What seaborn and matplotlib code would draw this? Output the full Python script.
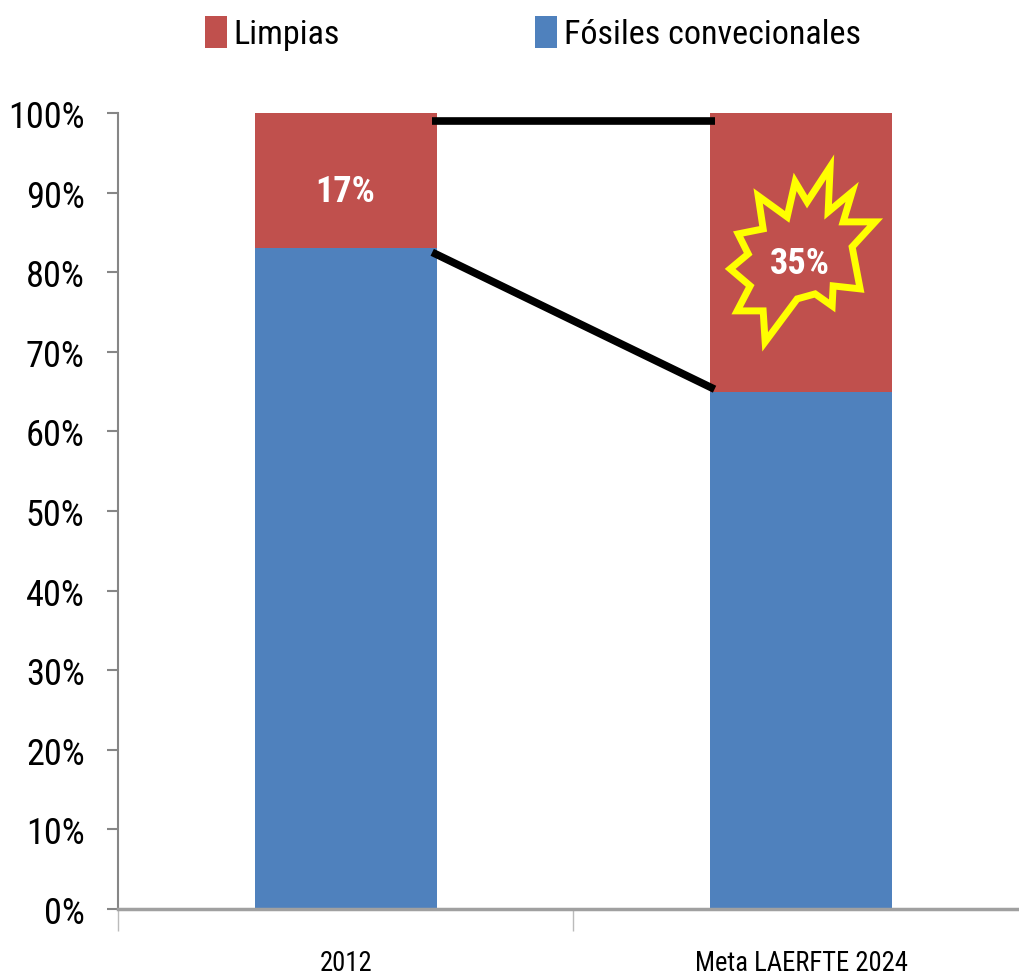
import matplotlib
matplotlib.use("Agg")
import pandas as pd
import matplotlib.pyplot as plt
import seaborn as sns
from matplotlib import font_manager
from matplotlib.patches import Patch, Polygon

# values (share of generation, %)
categories = ["2012", "Meta LAERFTE 2024"]
fosiles = [83, 65]
limpias = [17, 35]
series_names = ["Limpias", "Fósiles convecionales"]
yticks = list(range(0, 101, 10))

RED = "#C0504D"
BLUE = "#4F81BD"
GREY = "#868686"

# pick the narrowest family that is installed
installed = {f.name for f in font_manager.fontManager.ttflist}
FONT = "DejaVu Sans"
for cand in ["Liberation Sans Narrow", "Roboto Condensed", "Open Sans Condensed",
             "DejaVu Sans Condensed", "Liberation Sans", "Roboto"]:
    if cand in installed:
        FONT = cand
        break

sns.set_theme(style="white")
plt.rcParams["font.family"] = [FONT, "DejaVu Sans"]
plt.rcParams["text.color"] = "black"

df = pd.DataFrame({"cat": categories,
                   "fos": [f / 100 for f in fosiles],
                   "total": [(f + l) / 100 for f, l in zip(fosiles, limpias)]})

fig = plt.figure(figsize=(10.2, 9.79), dpi=100)
renderer = fig.canvas.get_renderer()


def fit_size(s, width_px, max_pt, weight="normal"):
    # font size that gives the text the width seen in the reference
    t = fig.text(0, 0, s, fontsize=10, fontweight=weight)
    w = t.get_window_extent(renderer).width
    t.remove()
    return min(10 * width_px / w, max_pt)


ytick_fs = fit_size("100%", 76, 38)
xtick_fs = fit_size("Meta LAERFTE 2024", 212, 28)
leg_fs = fit_size("Fósiles convecionales", 296, 36)
lab_fs = fit_size("35%", 60, 30, "bold")

ax = fig.add_axes([118 / 1020, 1 - 910 / 979, (1028.75 - 118) / 1020, (910 - 114) / 979])

# stacked bars: full height in red, fossil part in blue on top of it
sns.barplot(data=df, x="cat", y="total", color=RED, width=0.4, saturation=1, ax=ax)
sns.barplot(data=df, x="cat", y="fos", color=BLUE, width=0.4, saturation=1, ax=ax)
for p in ax.patches:
    p.set_edgecolor("none")

ax.set_xlim(-0.5, 1.5)
ax.set_ylim(0, 1)
ax.set_xlabel("")
ax.set_ylabel("")

ax.set_yticks([t / 100 for t in yticks])
ax.set_yticklabels([f"{t}%" for t in yticks], fontsize=ytick_fs, color="black")
ax.tick_params(axis="y", which="major", left=True, length=8, width=1.5,
               color=GREY, pad=16, direction="out")
ax.set_xticks([0, 1])
ax.set_xticklabels(categories, fontsize=xtick_fs, color="black", va="top")
ax.set_xticks([-0.5, 0.5, 1.5], minor=True)
ax.tick_params(axis="x", which="major", length=0, pad=29)
ax.tick_params(axis="x", which="minor", bottom=True, length=16, width=1,
               color="#BBBBBB", direction="out")

sns.despine(ax=ax, top=True, right=True)
ax.spines["left"].set_color(GREY)
ax.spines["left"].set_linewidth(1.5)
ax.spines["bottom"].set_color("#A0A0A0")
ax.spines["bottom"].set_linewidth(2.5)
ax.grid(False)

# connector lines between the bars
ax.plot([0.19, 0.81], [0.99, 0.99], color="black", lw=5.5, solid_capstyle="butt", zorder=5)
ax.plot([0.19, 0.81], [fosiles[0] / 100 - 0.005, fosiles[1] / 100 + 0.003],
        color="black", lw=5.5, solid_capstyle="butt", zorder=5)

# labels
ax.text(0, 0.902, f"{limpias[0]}%", color="white", fontsize=lab_fs,
        fontweight="bold", ha="center", va="center", zorder=6)
ax.text(0.998, 0.812, f"{limpias[1]}%", color="white", fontsize=lab_fs,
        fontweight="bold", ha="center", va="center", zorder=6)

# starburst around the 2024 label (outline offsets in pixels from its centre)
burst = [(30, 87), (28, 42), (52, 62), (43, 32), (75, 32), (52, 7), (60, -35),
         (33, -32), (32, -52), (15, -40), (-3, -45), (-35, -88), (-37, -57),
         (-63, -57), (-50, -32), (-70, -15), (-52, 0), (-62, 20), (-37, 25),
         (-42, 58), (-13, 37), (-5, 72), (7, 52)]
cx, cy = 0.998, 0.823
pts = [(cx + dx / 455.5, cy + dy / 796) for dx, dy in burst]
ax.add_patch(Polygon(pts, closed=True, fill=False, edgecolor="#FFFF00", lw=5,
                     joinstyle="miter", zorder=6))

# legend above the plot, one entry per anchor
hl = 22 / (leg_fs * 100 / 72)
hh = 36 / (leg_fs * 100 / 72)
for name, col, x0 in zip(series_names, [RED, BLUE], [205, 535]):
    fig.legend([Patch(facecolor=col, edgecolor="none")], [name], loc="center left",
               bbox_to_anchor=(x0 / 1020, 1 - 34 / 979), frameon=False, fontsize=leg_fs,
               handlelength=hl, handleheight=hh, handletextpad=0.2,
               borderpad=0, borderaxespad=0)

fig.savefig("out.png", dpi=100)
